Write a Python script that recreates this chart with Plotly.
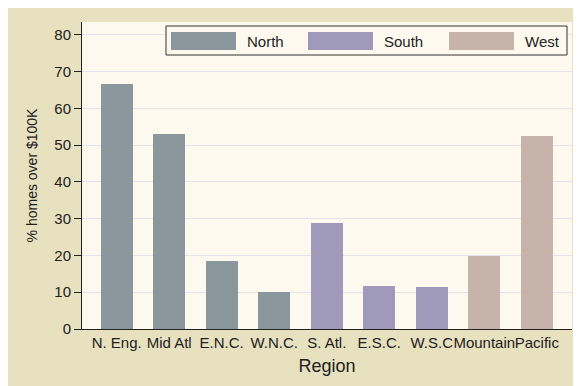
"""
Share of homes valued over $100K, by census region.
"""
import plotly.graph_objects as go

REGIONS = ['N. Eng.', 'Mid Atl', 'E.N.C.', 'W.N.C.', 'S. Atl.',
           'E.S.C.', 'W.S.C', 'Mountain', 'Pacific']
GROUPS = ['North', 'South', 'West']
GROUP_REGIONS = {
    'North': ['N. Eng.', 'Mid Atl', 'E.N.C.', 'W.N.C.'],
    'South': ['S. Atl.', 'E.S.C.', 'W.S.C'],
    'West': ['Mountain', 'Pacific'],
}
GROUP_VALUES = {
    'North': [66.7, 53.1, 18.5, 10.1],
    'South': [28.9, 11.6, 11.3],
    'West': [19.9, 52.5],
}
Y_TICKS = [0, 10, 20, 30, 40, 50, 60, 70, 80]

COLORS = {'North': '#8a979c', 'South': '#a09aba', 'West': '#c6b3a9'}
BEIGE = '#e7e1c0'
CREAM = '#fdf9ee'
FONT = 'Liberation Sans, Arial, sans-serif'

fig = go.Figure()
for g in GROUPS:
    fig.add_trace(go.Bar(
        x=GROUP_REGIONS[g],
        y=GROUP_VALUES[g],
        name=g,
        width=0.61,
        marker=dict(color=COLORS[g], line=dict(width=0)),
        showlegend=False,
    ))

# legend drawn by hand to get the wide Stata-style keys
# (positions in page pixels: plot area spans x 82..572, y 22..329)
fig.add_shape(type='rect', xref='paper', yref='paper',
              x0=(166 - 82) / 490, x1=(567 - 82) / 490,
              y0=(329 - 55) / 307, y1=(329 - 26) / 307,
              fillcolor=CREAM, line=dict(color='#333333', width=1))
key_x = [171, 308, 449]
for g, kx in zip(GROUPS, key_x):
    fig.add_shape(type='rect', xref='paper', yref='paper',
                  x0=(kx - 82) / 490, x1=(kx + 65 - 82) / 490,
                  y0=(329 - 50) / 307, y1=(329 - 32) / 307,
                  fillcolor=COLORS[g], line=dict(width=0))
    fig.add_annotation(text=g, xref='paper', yref='paper',
                       x=(kx + 74 - 82) / 490, y=(329 - 41) / 307,
                       xanchor='left', yanchor='middle', showarrow=False,
                       font=dict(family=FONT, size=15, color='#222222'))

fig.update_layout(
    width=581, height=386,
    margin=dict(l=74, r=17, t=14, b=65),
    paper_bgcolor=BEIGE,
    plot_bgcolor=CREAM,
    barmode='relative',
    bargap=0,
    font=dict(family=FONT, size=15, color='#222222'),
    xaxis=dict(
        categoryorder='array', categoryarray=REGIONS,
        range=[-0.66, 8.67],
        showline=True, linecolor='#222222', linewidth=1,
        ticks='', showgrid=False, zeroline=False,
        tickangle=0, automargin=False,
        tickfont=dict(size=15),
        title=dict(text='Region', font=dict(size=18), standoff=9),
    ),
    yaxis=dict(
        range=[0, 83.5],
        tickvals=Y_TICKS,
        showline=True, linecolor='#222222', linewidth=1,
        ticks='outside', ticklen=7, tickcolor='#222222',
        showgrid=True, gridcolor='#e4e2ea', gridwidth=1,
        zeroline=False, automargin=False,
        tickfont=dict(size=15),
        title=dict(text='% homes over $100K', font=dict(size=14), standoff=13),
    ),
)

fig.write_html("out.html")
